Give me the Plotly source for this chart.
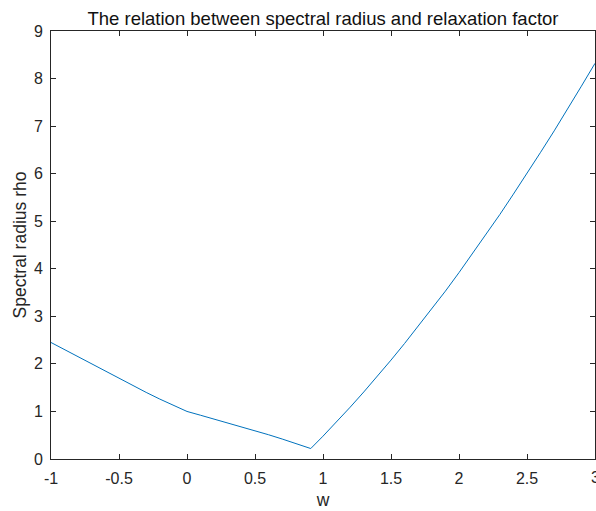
import plotly.graph_objects as go

# relaxation factor w and spectral radius rho
w_values = [-1.0, -0.9, -0.8, -0.7, -0.6, -0.5, -0.4, -0.3, -0.2, -0.1, 0.0,
            0.1, 0.2, 0.3, 0.4, 0.5, 0.6, 0.7, 0.8, 0.9, 0.91,
            1.0, 1.1, 1.2, 1.3, 1.4, 1.5, 1.6, 1.7, 1.8, 1.9, 2.0,
            2.1, 2.2, 2.3, 2.4, 2.5, 2.6, 2.7, 2.8, 2.9, 3.0]
rho_values = [2.45, 2.30, 2.14, 1.99, 1.84, 1.69, 1.54, 1.40, 1.26, 1.13, 1.00,
              0.92, 0.84, 0.76, 0.68, 0.60, 0.51, 0.42, 0.33, 0.23, 0.22,
              0.48, 0.78, 1.09, 1.41, 1.74, 2.08, 2.43, 2.79, 3.16, 3.53, 3.92,
              4.32, 4.72, 5.14, 5.57, 6.00, 6.45, 6.90, 7.36, 7.84, 8.32]

x_ticks = [-1, -0.5, 0, 0.5, 1, 1.5, 2, 2.5, 3]
x_tick_labels = ["-1", "-0.5", "0", "0.5", "1", "1.5", "2", "2.5", "3"]
y_ticks = [0, 1, 2, 3, 4, 5, 6, 7, 8, 9]

title_text = "The relation between spectral radius and relaxation factor"
x_title = "w"
y_title = "Spectral radius rho"

axis_color = "#262626"
font_family = "Liberation Sans, Arial, sans-serif"
tick_size = 16
label_size = 17.5
title_size = 18.5

fig = go.Figure()
fig.add_trace(go.Scatter(x=w_values, y=rho_values, mode="lines",
                         line=dict(color="#0072BD", width=1),
                         showlegend=False, hoverinfo="skip"))

axis_common = dict(
    showgrid=False, zeroline=False, showline=True, linecolor=axis_color,
    linewidth=1, mirror="allticks", ticks="inside", ticklen=5,
    tickcolor=axis_color, tickwidth=1,
    tickfont=dict(family=font_family, size=tick_size, color=axis_color),
)

fig.update_layout(
    width=596, height=511,
    margin=dict(l=51, r=1, t=31, b=52),
    paper_bgcolor="white", plot_bgcolor="white",
    font=dict(family=font_family, color=axis_color),
    title=dict(text=title_text, x=0.5, xanchor="center", xref="paper",
               y=1, yref="paper", yanchor="bottom", pad=dict(b=6),
               font=dict(family=font_family, size=title_size, color="#111111")),
    xaxis=dict(range=[-1, 3], tickvals=x_ticks, ticktext=x_tick_labels,
               ticklabelstandoff=5,
               title=dict(text=x_title, standoff=7,
                          font=dict(family=font_family, size=label_size, color=axis_color)),
               **axis_common),
    yaxis=dict(range=[0, 9], tickvals=y_ticks, ticklabelstandoff=4,
               title=dict(text=y_title, standoff=2,
                          font=dict(family=font_family, size=label_size, color=axis_color)),
               **axis_common),
)

# the last x tick label sits on the right edge and is partly cut off, as in the reference
fig.add_annotation(x=x_ticks[-1], y=0, xref="x", yref="paper", text=x_tick_labels[-1],
                   showarrow=False, xanchor="center", yanchor="top", yshift=-8,
                   font=dict(family=font_family, size=tick_size, color=axis_color))

fig.write_html("out.html")
